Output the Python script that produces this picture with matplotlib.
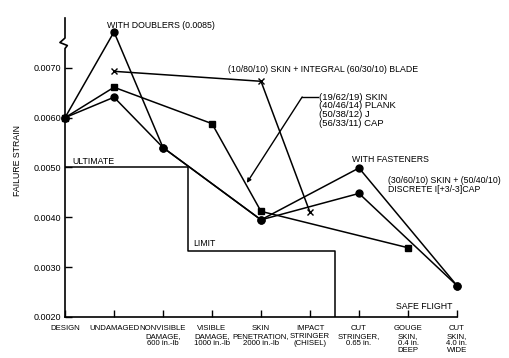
import matplotlib
matplotlib.use("Agg")
import matplotlib.pyplot as plt

plt.rcParams['font.family'] = ['Liberation Sans', 'DejaVu Sans']

# x categories
categories = ["DESIGN", "UNDAMAGED", "NONVISIBLE\nDAMAGE,\n600 in.-lb",
              "VISIBLE\nDAMAGE,\n1000 in.-lb", "SKIN\nPENETRATION,\n2000 in.-lb",
              "IMPACT\nSTRINGER\n(CHISEL)", "CUT\nSTRINGER,\n0.65 in.",
              "GOUGE\nSKIN,\n0.4 in.\nDEEP", "CUT\nSKIN,\n4.0 in.\nWIDE"]

# circle series (discrete I cap, with doublers / with fasteners)
doublers_x = [0, 1, 2, 4, 6, 8]
doublers_y = [0.0060, 0.00772, 0.00540, 0.00395, 0.00448, 0.00263]
fasteners_x = [0, 1, 2, 4, 6, 8]
fasteners_y = [0.0060, 0.00641, 0.00540, 0.00395, 0.00499, 0.00263]
# square series (skin / plank / J / cap)
plank_x = [0, 1, 3, 4, 7]
plank_y = [0.0060, 0.00661, 0.00588, 0.00412, 0.00339]
# x series (integral blade)
blade_x = [1, 4, 5]
blade_y = [0.00693, 0.00673, 0.00410]

# ultimate / limit step line
step_x = [0, 2.5, 2.5, 5.5, 5.5]
step_y = [0.0050, 0.0050, 0.00333, 0.00333, 0.0020]

yticks = [0.0020, 0.0030, 0.0040, 0.0050, 0.0060, 0.0070]

fig = plt.figure(figsize=(5.09, 3.58), dpi=100)
ax = fig.add_axes([65 / 509, 1 - 317 / 358, 392 / 509, 299 / 358])

lw = 1.1
ax.plot(step_x, step_y, color='black', lw=lw)
ax.plot(doublers_x, doublers_y, color='black', lw=lw, marker='o', ms=5, clip_on=False)
ax.plot(fasteners_x, fasteners_y, color='black', lw=lw, marker='o', ms=5, clip_on=False)
ax.plot(plank_x, plank_y, color='black', lw=lw, marker='s', ms=4, clip_on=False)
ax.plot(blade_x, blade_y, color='black', lw=lw, marker='x', ms=4, mew=1.0, clip_on=False)

ax.set_xlim(0, 8)
ax.set_ylim(0.0020, 0.0080)

for s in ['top', 'right', 'left']:
    ax.spines[s].set_visible(False)
ax.spines['bottom'].set_linewidth(1.2)

# left axis drawn with a break symbol near the top
ax.plot([0, 0, -0.013, 0.006, 0, 0], [1, 0.933, 0.918, 0.908, 0.898, 0],
        transform=ax.transAxes, color='black', lw=1.2, clip_on=False)

ax.set_yticks(yticks)
ax.set_yticklabels([f"{v:.4f}" for v in yticks], fontsize=6.5)
ax.set_xticks(range(len(categories)))
ax.set_xticklabels(categories, fontsize=5.6, linespacing=1.05)
ax.tick_params(axis='both', direction='in', length=5, width=1.0, pad=3)
ax.tick_params(axis='x', pad=6)

fig.text(18 / 509, 1 - 160 / 358, "FAILURE STRAIN", rotation=90,
         ha='center', va='center', fontsize=6.3)

fs = 6.3
ax.text(0.857, 0.00784, "WITH DOUBLERS (0.0085)", fontsize=fs, va='center')
ax.text(3.33, 0.00696, "(10/80/10) SKIN + INTEGRAL (60/30/10) BLADE",
        fontsize=fs, va='center')
ax.text(5.18, 0.00650, "(19/62/19) SKIN\n(40/46/14) PLANK\n(50/38/12) J\n(56/33/11) CAP",
        fontsize=6.8, va='top', linespacing=0.95)
ax.plot([5.16, 4.84], [0.006415, 0.006415], color='black', lw=1.0)
ax.annotate("", xy=(3.71, 0.00469), xytext=(4.84, 0.006415),
            arrowprops=dict(arrowstyle='-|>', color='black', lw=1.0,
                            mutation_scale=6, shrinkA=0, shrinkB=0))
ax.text(5.85, 0.00517, "WITH FASTENERS", fontsize=fs, va='center')
ax.text(6.59, 0.00465, "(30/60/10) SKIN + (50/40/10)\nDISCRETE I[+3/-3]CAP",
        fontsize=fs, va='center', linespacing=1.0, clip_on=False)
ax.text(0.16, 0.00512, "ULTIMATE", fontsize=fs, va='center')
ax.text(2.61, 0.00347, "LIMIT", fontsize=fs, va='center')
ax.text(7.33, 0.00222, "SAFE FLIGHT", fontsize=fs, va='center', ha='center')

fig.savefig("out.png", dpi=100)
